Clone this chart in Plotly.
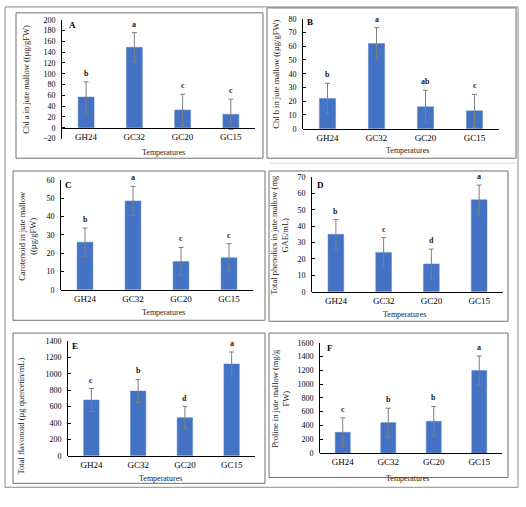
import plotly.graph_objects as go

# ---------------- data ----------------
categories = ["GH24", "GC32", "GC20", "GC15"]

chl_a = [57, 149, 33, 25]
chl_a_err = [28, 27, 29, 28]
chl_a_letters = ["b", "a", "c", "c"]

chl_b = [22, 62, 16, 13]
chl_b_err = [11, 11.5, 12, 12]
chl_b_letters = ["b", "a", "ab", "c"]

carotenoid = [26, 48.5, 15.5, 17.5]
carotenoid_err = [7.7, 7.9, 7.6, 7.7]
carotenoid_letters = ["b", "a", "c", "c"]

phenolics = [35, 24, 17, 56]
phenolics_err = [9, 9, 9, 9]
phenolics_letters = ["b", "c", "d", "a"]

flavonoid = [680, 790, 465, 1120]
flavonoid_err = [140, 140, 135, 145]
flavonoid_letters = ["c", "b", "d", "a"]

proline = [300, 440, 460, 1200]
proline_err = [210, 210, 215, 210]
proline_letters = ["c", "b", "b", "a"]

x_title = "Temperatures"

# ---------------- layout helpers ----------------
W, H = 526, 507
def dx(p): return p / W
def dy(p): return 1 - p / H

FONT = "Liberation Serif"
BAR = "#4472C4"

panels = [
    dict(vals=chl_a, errs=chl_a_err, letters=chl_a_letters, label="A",
         ytitle="Chl a in jute mallow ((µg/gFW)", rng=[-20, 200], dtick=20,
         area=(62, 16, 255, 137), ytx=26, yty=77, lab=(72, 21), xt=(163, 151)),
    dict(vals=chl_b, errs=chl_b_err, letters=chl_b_letters, label="B",
         ytitle="Chl b in jute mallow ((µg/gFW)", rng=[0, 80], dtick=10,
         area=(303, 15, 499, 127), ytx=276, yty=72, lab=(310, 18), xt=(407, 149)),
    dict(vals=carotenoid, errs=carotenoid_err, letters=carotenoid_letters, label="C",
         ytitle="Carotenoid in jute mallow<br>((µg/gFW)", rng=[0, 60], dtick=10,
         area=(61, 179, 253, 291), ytx=28, yty=236, lab=(68, 184), xt=(163, 314)),
    dict(vals=phenolics, errs=phenolics_err, letters=phenolics_letters, label="D",
         ytitle="Total phenolics in jute mallow (mg<br>GAE/mL)", rng=[0, 70], dtick=10,
         area=(312, 176, 503, 293), ytx=280, yty=235, lab=(320, 184), xt=(404, 316)),
    dict(vals=flavonoid, errs=flavonoid_err, letters=flavonoid_letters, label="E",
         ytitle="Total flavonoid (µg quercetin/mL)", rng=[0, 1400], dtick=200,
         area=(68, 343, 255, 460), ytx=21, yty=420, lab=(75, 348), xt=(160, 483)),
    dict(vals=proline, errs=proline_err, letters=proline_letters, label="F",
         ytitle="Proline in jute mallow (mg/g<br>FW)", rng=[0, 1600], dtick=200,
         area=(320, 345, 502, 457), ytx=281, yty=402, lab=(330, 350), xt=(407, 483)),
]

fig = go.Figure()
annotations = []
layout_axes = {}

for i, p in enumerate(panels, start=1):
    s = "" if i == 1 else str(i)
    l, t, r, b = p["area"]
    lo, hi = p["rng"]
    fig.add_trace(go.Bar(
        x=categories, y=p["vals"], xaxis=f"x{s}", yaxis=f"y{s}",
        marker=dict(color=BAR, line=dict(color="#5b84cf", width=0.5)),
        width=0.33,
        error_y=dict(type="data", array=p["errs"], visible=True,
                     color="#7f7f7f", thickness=1, width=2.5),
        showlegend=False, hoverinfo="skip",
    ))
    zero_frac = (0 - lo) / (hi - lo)
    xpos = dy(b) + zero_frac * (dy(t) - dy(b))
    layout_axes[f"xaxis{s}"] = dict(
        domain=[dx(l), dx(r)], anchor="free", position=xpos,
        showline=True, linecolor="#000", linewidth=1, ticks="",
        showgrid=False, zeroline=False, ticklabelstandoff=0,
        tickfont=dict(family=FONT, size=9, color="#000"),
        range=[-0.5, 3.5], type="category",
    )
    layout_axes[f"yaxis{s}"] = dict(
        domain=[dy(b), dy(t)], anchor=f"x{s}", range=[lo, hi], dtick=p["dtick"],
        showline=True, linecolor="#000", linewidth=1,
        ticks="inside", ticklen=3, tickcolor="#000",
        showgrid=False, zeroline=False, ticklabelstandoff=4,
        tickfont=dict(family=FONT, size=8, color="#000"),
    )
    # significance letters
    for c, v, e, txt in zip(categories, p["vals"], p["errs"], p["letters"]):
        annotations.append(dict(
            x=c, y=v + e, xref=f"x{s}", yref=f"y{s}", text=f"<b>{txt}</b>",
            showarrow=False, yanchor="bottom", yshift=2,
            font=dict(family=FONT, size=8, color="#222"),
        ))
    # panel letter
    annotations.append(dict(
        x=dx(p["lab"][0]), y=dy(p["lab"][1]), xref="paper", yref="paper",
        xanchor="center", yanchor="middle",
        text=f"<b>{p['label']}</b>", showarrow=False,
        font=dict(family=FONT, size=9, color="#000"),
    ))
    # y title
    annotations.append(dict(
        x=dx(p["ytx"]), y=dy(p["yty"]), xref="paper", yref="paper",
        xanchor="center", yanchor="middle",
        text=p["ytitle"], textangle=-90, showarrow=False,
        font=dict(family=FONT, size=8.5, color="#222"),
    ))
    # x title
    annotations.append(dict(
        x=dx(p["xt"][0]), y=dy(p["xt"][1]), xref="paper", yref="paper",
        xanchor="center", yanchor="middle",
        text=x_title, showarrow=False,
        font=dict(family=FONT, size=8, color="#222"),
    ))

# frames (boxes around panels and outer frame)
boxes = [
    (5, 3, 518, 492, "#8a8a8a"),
    (16, 9, 263, 157, "#707070"),
    (267, 4, 516, 157, "#707070"),
    (13, 170, 265, 322, "#707070"),
    (269, 170, 508, 323, "#707070"),
    (13, 335, 265, 488, "#707070"),
    (269, 335, 508, 482, "#707070"),
]
shapes = []
for (x0, y0, x1, y1, col) in boxes:
    shapes.append(dict(type="rect", xref="paper", yref="paper",
                       x0=dx(x0), x1=dx(x1), y0=dy(y0), y1=dy(y1),
                       line=dict(color=col, width=1), fillcolor="rgba(0,0,0,0)"))
shapes.append(dict(type="line", xref="paper", yref="paper",
                   x0=dx(270), x1=dx(516), y0=dy(162), y1=dy(162),
                   line=dict(color="#d8d8d8", width=1)))

fig.update_layout(
    width=W, height=H, autosize=False,
    margin=dict(l=0, r=0, t=0, b=0),
    paper_bgcolor="white", plot_bgcolor="white",
    annotations=annotations, shapes=shapes,
    bargap=0.67,
    **layout_axes,
)

fig.write_html(
    "out.html",
    config={"displayModeBar": False, "staticPlot": True},
    post_script="document.body.style.margin='0';document.body.style.overflow='hidden';",
)
